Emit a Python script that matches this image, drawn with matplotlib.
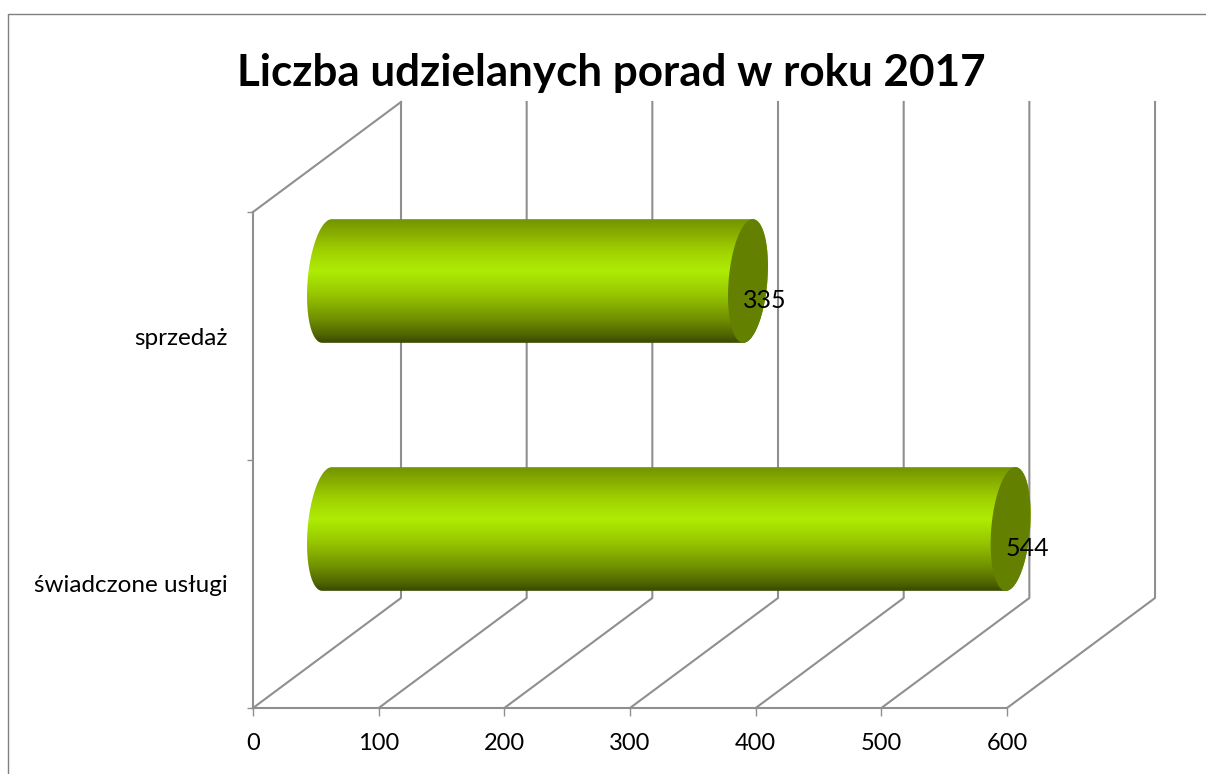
import matplotlib
matplotlib.use("Agg")
import numpy as np
import matplotlib.pyplot as plt
from matplotlib.colors import LinearSegmentedColormap
from matplotlib.lines import Line2D
from matplotlib.patches import Polygon

plt.rcParams["font.family"] = ["Lato", "DejaVu Sans"]

title = "Liczba udzielanych porad w roku 2017"
categories = ["świadczone usługi", "sprzedaż"]
values = [544, 335]
x_ticks = [0, 100, 200, 300, 400, 500, 600]

W, H = 1206, 774
GRAY = "#8f8f8f"
LW = 1.5
# scale of the front plane, in pixels
PX_PER_UNIT = 1.2567
PX_PER_BAND = 248
X0_PX, Y0_PX = 253, 708
# depth of the 3D box, as data units
DEPTH_X = 148 / PX_PER_UNIT
DEPTH_Y = 110 / PX_PER_BAND


def project(v, band, depth=0.0):
    return v + depth * DEPTH_X, band + depth * DEPTH_Y


fig = plt.figure(figsize=(W / 100, H / 100), dpi=100)
ax = fig.add_axes([0, 0, 1, 1])
ax.set_xlim(-X0_PX / PX_PER_UNIT, (W - X0_PX) / PX_PER_UNIT)
ax.set_ylim(-(H - Y0_PX) / PX_PER_BAND, Y0_PX / PX_PER_BAND)
ax.patch.set_alpha(0)

# front axes
for s in ["top", "right"]:
    ax.spines[s].set_visible(False)
ax.spines["left"].set_position(("data", 0))
ax.spines["bottom"].set_position(("data", 0))
ax.spines["left"].set_bounds(0, 2)
ax.spines["bottom"].set_bounds(0, 600)
ax.spines["left"].set_color(GRAY)
ax.spines["bottom"].set_color(GRAY)
ax.spines["left"].set_linewidth(LW)
ax.spines["bottom"].set_linewidth(LW)

ax.set_xticks(x_ticks)
ax.tick_params(axis="x", length=6, width=1, color=GRAY, labelsize=17, pad=12, labelcolor="black")
ax.set_yticks([0, 1, 2])
ax.set_yticklabels(["", "", ""])
ax.tick_params(axis="y", length=4, width=1, color=GRAY)
ax.set_yticks([0.5, 1.5], labels=categories, minor=True)
ax.tick_params(axis="y", which="minor", length=0, labelsize=17.5, pad=18, labelcolor="black")

# walls and floor
for v in x_ticks:
    xs, ys = zip(project(v, 0, 0), project(v, 0, 1), project(v, 2, 1))
    ax.plot(xs, ys, color=GRAY, lw=LW, zorder=1, clip_on=False)
xs, ys = zip(project(0, 2, 0), project(0, 2, 1))
ax.plot(xs, ys, color=GRAY, lw=LW, zorder=1)

# cylinders
cmap = LinearSegmentedColormap.from_list("bar", [
    (0.0, "#729400"), (0.1, "#86aa00"), (0.25, "#9fd000"), (0.42, "#aeec05"),
    (0.6, "#98c800"), (0.8, "#729200"), (0.92, "#546b00"), (1.0, "#3a4a00"),
])
grad = np.linspace(0, 1, 256).reshape(-1, 1)
R_BAND = 0.242
R_DEPTH = 0.135
T0 = 0.24


def cap_points(v, band, t):
    return project(v, band + R_BAND * np.cos(t), 0.5 + R_DEPTH * np.sin(t))


for i, val in enumerate(values):
    band = i + 0.5
    t1 = np.linspace(T0, T0 + np.pi, 60)
    t2 = np.linspace(T0 + np.pi, T0 + 2 * np.pi, 60)
    x1, y1 = cap_points(val, band, t1)
    x2, y2 = cap_points(0, band, t2)
    body = Polygon(np.r_[np.c_[x1, y1], np.c_[x2, y2]], closed=True, transform=ax.transData,
                   facecolor="none", edgecolor="none")
    ax.add_patch(body)
    all_y = np.r_[y1, y2]
    im = ax.imshow(grad, cmap=cmap, aspect="auto", zorder=2, vmin=0, vmax=1,
                   extent=[x2.min(), x1.max(), all_y.min(), all_y.max()])
    im.set_clip_path(body)
    t = np.linspace(0, 2 * np.pi, 120)
    xc, yc = cap_points(val, band, t)
    ax.fill(xc, yc, color="#638000", zorder=3, lw=0)
    tip_x, tip_y = project(val, band, 0.5)
    ax.annotate(str(val), (tip_x, tip_y), xytext=(17 * 0.72, -19 * 0.72), textcoords="offset points",
                ha="center", va="center", fontsize=18, color="black", zorder=4)

ax.set_xlim(-X0_PX / PX_PER_UNIT, (W - X0_PX) / PX_PER_UNIT)
ax.set_ylim(-(H - Y0_PX) / PX_PER_BAND, Y0_PX / PX_PER_BAND)

fig.text(611 / W, 1 - 73 / H, title, ha="center", va="center", fontsize=31.7, fontweight="bold", color="black")

# chart frame, cut off at the right and bottom
fig.add_artist(Line2D([7.5 / W, 7.5 / W, 1], [0, 1 - 13.5 / H, 1 - 13.5 / H], color="#808080", lw=1))

fig.savefig("out.png", dpi=100)
plt.close(fig)
